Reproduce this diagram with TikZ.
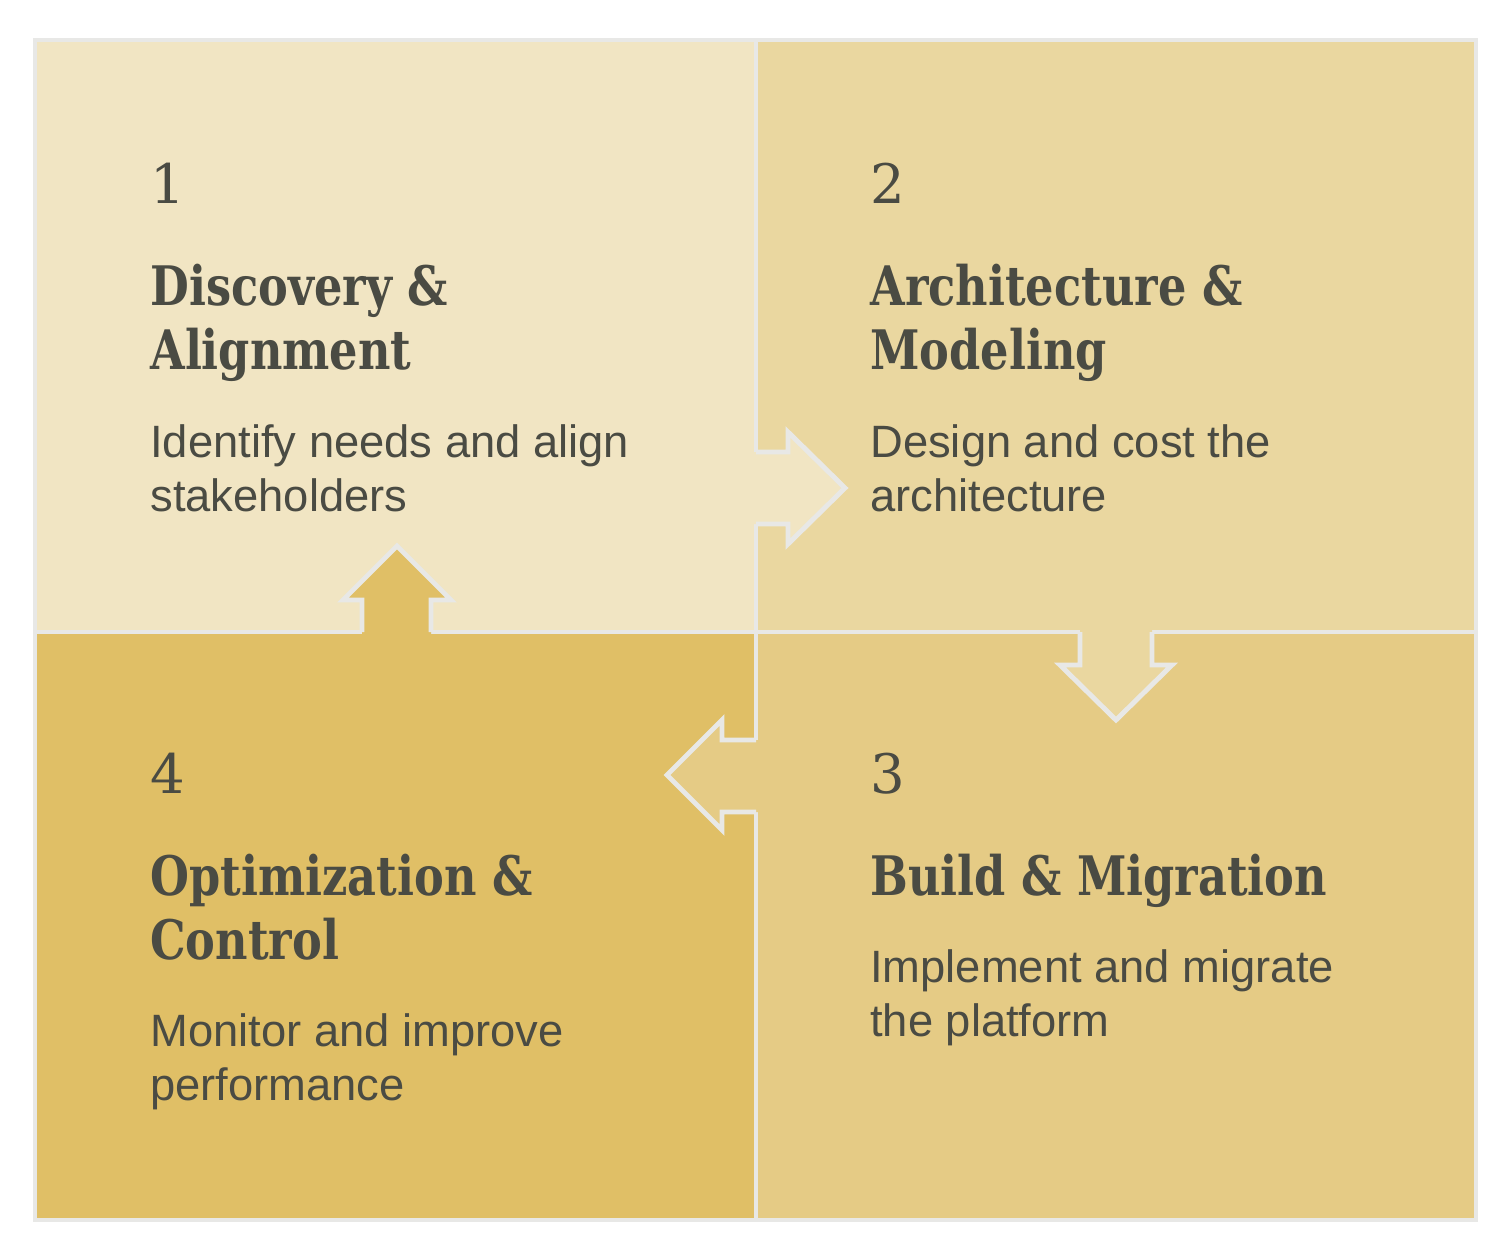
\documentclass[tikz,border=0pt]{standalone}
\usepackage{fontspec}
\setmainfont{Liberation Sans}
\newfontfamily\slabfont[FakeStretch=0.82]{DejaVu Serif}
\newfontfamily\numfont{DejaVu Serif}
\definecolor{paleA}{RGB}{241,229,195}
\definecolor{paleB}{RGB}{234,215,160}
\definecolor{paleC}{RGB}{229,203,133}
\definecolor{paleD}{RGB}{224,191,102}
\definecolor{rim}{RGB}{232,232,230}
\definecolor{ink}{RGB}{74,75,67}
\begin{document}
\begin{tikzpicture}[
	x=0.02cm, y=-0.02cm,
	stepnum/.style={
		anchor=base west, inner sep=0pt, text=ink,
		font=\numfont\fontsize{31}{36}\selectfont
	},
	steptitle/.style={
		anchor=base west, inner sep=0pt, align=left, text=ink,
		font=\slabfont\bfseries\fontsize{31}{36.3}\selectfont
	},
	stepbody/.style={
		anchor=base west, inner sep=0pt, align=left, text=ink,
		font=\fontsize{25.8}{30.6}\selectfont
	},
	divider/.style={draw=rim, line width=2.8pt},
	outline/.style={divider, line cap=square, line join=miter},
	]
	\useasboundingbox (0,0) rectangle (1508,1254);
	\fill[white] (0,0) rectangle (1508,1254);

	% quadrants
	\fill[paleA] (35,40) rectangle (756,632);
	\fill[paleB] (756,40) rectangle (1476,632);
	\fill[paleC] (756,632) rectangle (1476,1220);
	\fill[paleD] (35,632) rectangle (756,1220);
	\draw[divider] (35,40) rectangle (1476,1220);
	\draw[divider] (756,40) -- (756,1220);
	\draw[divider] (35,632) -- (1476,632);

	% arrows
	\fill[paleA] (745,452) -- (788,452) -- (788,432) -- (845,488) -- (788,544) -- (788,524) -- (745,524) -- cycle;
	\draw[outline] (756,452) -- (788,452) -- (788,432) -- (845,488) -- (788,544) -- (788,524) -- (756,524);
	\fill[paleB] (1080,625) -- (1080,665) -- (1060,665) -- (1116,720) -- (1172,665) -- (1152,665) -- (1152,625) -- cycle;
	\draw[outline] (1080,632) -- (1080,665) -- (1060,665) -- (1116,720) -- (1172,665) -- (1152,665) -- (1152,632);
	\fill[paleC] (763,740) -- (722,740) -- (722,720) -- (667,775) -- (722,830) -- (722,812) -- (763,812) -- cycle;
	\draw[outline] (756,740) -- (722,740) -- (722,720) -- (667,775) -- (722,830) -- (722,812) -- (756,812);
	\fill[paleD] (362,639) -- (362,600) -- (343,600) -- (397,546) -- (451,600) -- (431,600) -- (431,639) -- cycle;
	\draw[outline] (362,632) -- (362,600) -- (343,600) -- (397,546) -- (451,600) -- (431,600) -- (431,632);

	% texts (base = last line)
	\node[stepnum] (num1) at (150,203) {1};
	\node[steptitle] (title1) at (150,369) {Discovery \&\\Alignment};
	\node[stepbody] (body1) at (150,511) {Identify needs and align\\stakeholders};

	\node[stepnum] (num2) at (870,203) {2};
	\node[steptitle] (title2) at (870,369) {Architecture \&\\Modeling};
	\node[stepbody] (body2) at (870,511) {Design and cost the\\architecture};

	\node[stepnum] (num3) at (870,793) {3};
	\node[steptitle] (title3) at (870,895) {Build \& Migration};
	\node[stepbody] (body3) at (870,1036) {Implement and migrate\\the platform};

	\node[stepnum] (num4) at (150,793) {4};
	\node[steptitle] (title4) at (150,959) {Optimization \&\\Control};
	\node[stepbody] (body4) at (150,1100) {Monitor and improve\\performance};
\end{tikzpicture}
\end{document}
